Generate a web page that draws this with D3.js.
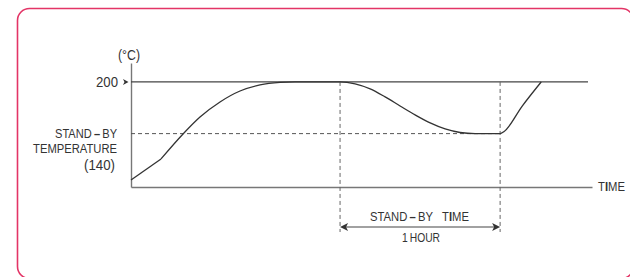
<!DOCTYPE html>
<html>
<head>
<meta charset="utf-8">
<script src="https://cdn.jsdelivr.net/npm/d3@7/dist/d3.min.js"></script>
<style>
  html, body { margin: 0; padding: 0; background: #fff; }
  svg { display: block; }
  text { font-family: "Liberation Sans", Arial, sans-serif; fill: #333; }
</style>
</head>
<body>
<svg id="chart" width="630" height="277"></svg>
<script>
// ---- data (time in hours, temperature in °C) ----
const rampStart = [[0, 86.2], [0.1875, 110.6]];
const tempCurve = [
  [0.1875, 110.6], [0.325, 139.6], [0.431, 159.3], [0.556, 176.8], [0.681, 189.5],
  [0.806, 196.5], [0.931, 199.4], [1.025, 200], [1.306, 200],
  [1.4, 197.7], [1.494, 191.9], [1.5875, 182.6], [1.681, 172.1], [1.775, 161.7],
  [1.869, 152.4], [1.9625, 145.4], [2.056, 141.3], [2.15, 140.1], [2.306, 140],
  [2.331, 142.5], [2.444, 172], [2.5625, 200]
];
const setTemp = 200;
const standbyTemp = 140;
const standbyStart = 1.306;
const standbyEnd = 2.306;
const timeMax = 2.88;
const setLineEnd = 2.855;
const labels = {
  unit: "(°C)", setTemp: "200", standby: ["STAND", "BY"], standbyTemp: ["TEMPERATURE", "(140)"],
  time: ["T", "I", "ME"], standbyTime: ["STAND", "BY   T", "I", "ME"], hour: "1\u2009HOUR"
};

const svg = d3.select("#chart");

// frame
svg.append("rect")
  .attr("x", 17.5).attr("y", 8.5).attr("width", 616).attr("height", 270)
  .attr("rx", 12).attr("fill", "none").attr("stroke", "#e33466").attr("stroke-width", 1.6);

const x = d3.scaleLinear().domain([0, timeMax]).range([131, 592]);
const y = d3.scaleLinear().domain([78, 222]).range([187, 63]);

// axes
const gx = svg.append("g").attr("transform", `translate(0,${y(78)})`)
  .call(d3.axisBottom(x).tickValues([]).tickSizeOuter(0));
const gy = svg.append("g").attr("transform", `translate(${x(0)},0)`)
  .call(d3.axisLeft(y).tickValues([]).tickSizeOuter(0));
[gx, gy].forEach(g => g.select(".domain").attr("stroke", "#777").attr("stroke-width", 1.4));

// 200 reference line
svg.append("line")
  .attr("x1", x(0)).attr("x2", x(setLineEnd))
  .attr("y1", y(setTemp)).attr("y2", y(setTemp))
  .attr("stroke", "#444").attr("stroke-width", 1.2);

// stand-by dashed line
svg.append("line")
  .attr("x1", x(0)).attr("x2", x(standbyEnd))
  .attr("y1", y(standbyTemp)).attr("y2", y(standbyTemp))
  .attr("stroke", "#555").attr("stroke-width", 1).attr("stroke-dasharray", "4,3");

// vertical dashed lines
[standbyStart, standbyEnd].forEach(t => {
  svg.append("line")
    .attr("x1", x(t)).attr("x2", x(t))
    .attr("y1", y(setTemp)).attr("y2", y(78) + 45)
    .attr("stroke", "#666").attr("stroke-width", 1).attr("stroke-dasharray", "4,3");
});

// temperature curve
const lineLin = d3.line().x(d => x(d[0])).y(d => y(d[1]));
const lineSmooth = d3.line().x(d => x(d[0])).y(d => y(d[1])).curve(d3.curveMonotoneX);
svg.append("path").attr("d", lineLin(rampStart))
  .attr("fill", "none").attr("stroke", "#333").attr("stroke-width", 1.3);
svg.append("path").attr("d", lineSmooth(tempCurve))
  .attr("fill", "none").attr("stroke", "#333").attr("stroke-width", 1.3);

// labels: condensed by horizontal scaling to the measured widths
const FS = 13.5;
const pending = [];
function label(xp, yp, anchor, size, width) {
  const g = svg.append("g").attr("transform", `translate(${xp},${yp})`);
  const t = g.append("text").attr("text-anchor", anchor)
    .attr("dominant-baseline", "central").attr("font-size", size).attr("xml:space", "preserve");
  pending.push({ g, t, xp, yp, width });
  return t;
}
function fitAll() {
  pending.forEach(p => {
    const w = p.t.node().getComputedTextLength();
    const s = w > 0 ? p.width / w : 1;
    p.g.attr("transform", `translate(${p.xp},${p.yp}) scale(${s},1)`);
  });
}
function dashLabel(t, parts) {
  t.append("tspan").text(parts[0]);
  t.append("tspan").attr("font-weight", "bold").text("\u2009\u2013\u2009");
  t.append("tspan").text(parts[1]);
  if (parts.length > 2) {
    t.append("tspan").attr("font-weight", "bold").text(parts[2]);
    t.append("tspan").text(parts[3]);
  }
  return t;
}

label(129, 55, "middle", 14, 22).text(labels.unit);
label(118, y(setTemp), "end", 14.5, 22).text(labels.setTemp);
// small marker triangle
const my = y(setTemp);
svg.append("path").attr("d", `M123,${my - 3}L128.5,${my}L123,${my + 3}L124.5,${my}Z`).attr("fill", "#333");

dashLabel(label(117, y(standbyTemp), "end", FS, 62), labels.standby);
label(117, 149, "end", FS, 84).text(labels.standbyTemp[0]);
label(115, 165, "end", 14.5, 31).text(labels.standbyTemp[1]);

const tt = label(598, y(78), "start", FS, 27);
tt.append("tspan").text(labels.time[0]);
tt.append("tspan").attr("font-weight", "bold").text(labels.time[1]);
tt.append("tspan").text(labels.time[2]);

// stand-by time arrow
const ax1 = x(standbyStart), ax2 = x(standbyEnd), ay = 227;
svg.append("line").attr("x1", ax1 + 3).attr("x2", ax2 - 3).attr("y1", ay).attr("y2", ay)
  .attr("stroke", "#444").attr("stroke-width", 1.2);
svg.append("path").attr("d", `M${ax1},${ay}L${ax1 + 8},${ay - 4}L${ax1 + 6},${ay}L${ax1 + 8},${ay + 4}Z`).attr("fill", "#333");
svg.append("path").attr("d", `M${ax2},${ay}L${ax2 - 8},${ay - 4}L${ax2 - 6},${ay}L${ax2 - 8},${ay + 4}Z`).attr("fill", "#333");

dashLabel(label(419.5, 217, "middle", FS, 99), labels.standbyTime);
label(421, 237, "middle", FS, 38).text(labels.hour);

fitAll();
</script>
</body>
</html>
